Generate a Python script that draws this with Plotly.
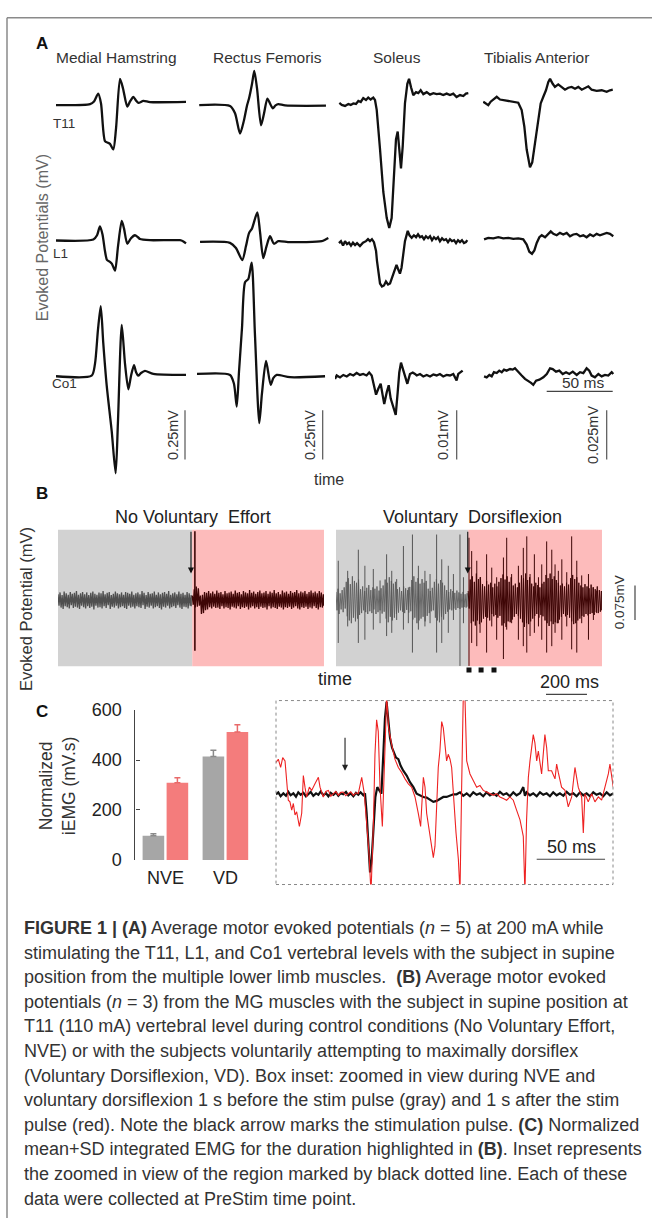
import plotly.graph_objects as go

W, H = 652, 1228
FONT = "Liberation Sans, Arial, Helvetica, sans-serif"


def X(px):
    return px / W


def Y(py):
    return 1 - py / H


# ======================= DATA =======================
COLUMNS = ["Medial Hamstring", "Rectus Femoris", "Soleus", "Tibialis Anterior"]
LEVELS = ["T11", "L1", "Co1"]
SCALE_LABELS = ["0.25mV", "0.25mV", "0.01mV", "0.025mV"]
SCALE_UV = [250, 250, 10, 25]          # vertical scale bars (µV)
TIME_BAR_MS = 50

# Panel A traces: (time ms, amplitude µV)
MH_T11 = [(0, -3.5), (25.8, 1.5), (28.8, 15), (32.0, 55), (34.1, 5), (37.1, -186), (39.4, -195),
          (40.9, -200), (43.4, -228), (45.5, -120), (48.5, 130), (50.8, 80), (54.0, -11), (56.1, 15),
          (58.6, 38), (60.6, 20), (62.4, 8), (66.2, 18), (71.2, 12), (98.5, 13)]
RF_T11 = [(1.7, -3.5), (25.0, -8.5), (28.8, -45), (32.6, -148), (35.6, -80), (37.9, -5), (39.4, 30),
          (41.7, 105), (43.4, 171), (45.5, 80), (48.5, -106), (50.8, -45), (53.3, 30), (55.3, 5),
          (57.4, -20), (59.5, -5), (61.6, 1.5), (66.7, -5), (97.7, -6.5)]
MH_L1 = [(0, 3.5), (28.3, 8.5), (31.1, 30), (33.3, 75), (35.2, 35), (37.1, -50), (38.6, -95),
         (40.9, -105), (42.4, -115), (44.7, -150), (47.0, -25), (49.8, 103), (51.5, 65), (54.0, -13),
         (56.8, 15), (59.8, 30), (62.1, 20), (63.6, 11), (71.2, 5), (93.9, 5), (96.2, 0), (98.5, -11)]
RF_L1 = [(2.3, -3.5), (25.0, -8.5), (29.5, -35), (34.3, -96), (37.1, -25), (39.4, 41), (41.7, 65),
         (45.7, 146), (47.7, 50), (50.2, -86), (52.7, -25), (55.3, 25), (58.3, -13), (61.6, 0),
         (70.5, -5), (94.5, 0), (97.7, 10), (99.5, 16)]
MH_CO1 = [(0, -1.5), (27.0, 1.5), (29.5, 60), (31.8, 235), (33.9, 355), (35.8, 168), (38.4, -48),
          (42.2, -281), (45.2, -495), (46.9, -240), (49.8, 260), (52.3, 60), (54.8, -68), (56.8, 0),
          (59.1, 55), (60.6, 20), (62.3, 1.5), (64.4, 15), (67.4, 26), (73.7, 10), (98.5, 5)]
RF_CO1 = [(0, 10), (25.0, 5), (28.0, -40), (30.1, -156), (31.8, 20), (34.1, 245), (36.4, 476),
          (38.9, 493), (41.4, 576), (43.9, 210), (47.2, -240), (49.2, -90), (52.3, 76), (55.8, -45),
          (57.9, -10), (60.4, 5), (70.5, -6.5), (97.0, -1.5)]
SOL_T11 = [(3.3, 0.3), (5.1, -0.1), (7.6, -0.3), (10.1, 0.1), (11.9, -0.1), (13.9, 0.2), (15.9, 0.1),
           (17.7, 0.7), (19.5, 0.5), (21.4, 1.3), (23.5, 0.9), (25.2, 1.4), (27.0, 1.0), (29.0, 1.4),
           (30.3, 0.9), (31.6, -1.1), (34.1, -9.1), (36.6, -17.8), (39.2, -23.1), (41.1, -25.1),
           (42.9, -23.1), (44.7, -13.8), (46.2, -7.1), (47.5, -5.5), (48.7, -8.5), (50.0, -13.0),
           (51.3, -8.5), (53.0, 0.2), (54.8, 4.2), (56.1, 5.2), (57.6, 3.5), (59.3, 1.9), (61.4, 2.5),
           (63.1, 2.3), (64.9, 2.9), (66.9, 2.1), (69.5, 2.5), (72.0, 2.0), (74.5, 2.3), (77.0, 2.1),
           (79.5, 2.2), (82.0, 1.9), (84.6, 2.2), (87.1, 1.9), (89.6, 2.2), (92.1, 1.5), (94.7, 1.9),
           (97.2, 1.7), (99.2, 2.2), (101.0, 2.3)]
SOL_L1 = [(3.0, -0.4), (4.5, 0), (6.1, -0.9), (7.6, 0), (9.1, -0.6), (10.6, -0.3), (12.1, -0.9),
          (13.6, -0.3), (15.2, -0.8), (16.7, -0.4), (18.9, -1.0), (21.2, -0.3), (23.5, 0), (25.0, 0.4),
          (26.5, 0), (28.0, 0.4), (29.5, -0.2), (31.1, -2.0), (31.8, -4.0), (33.3, -6.6), (34.1, -8.6),
          (35.6, -9.2), (37.1, -9.0), (38.6, -8.2), (40.2, -8.8), (41.7, -8.6), (43.2, -7.4),
          (44.3, -6.2), (45.5, -5.4), (46.6, -4.8), (47.7, -5.6), (49.2, -6.6), (50.4, -5.4),
          (51.5, -3.0), (53.0, 0), (55.1, 2.1), (56.4, 1.2), (58.1, 0.7), (59.8, 1.2), (61.4, 0.8),
          (62.9, 1.4), (64.4, 0.8), (65.9, 1.0), (67.4, 0.4), (68.9, 1.0), (70.5, 0.6), (72.0, 1.0),
          (73.5, 0.2), (75.0, 0.8), (76.5, 0.4), (78.0, 0.8), (79.5, 0), (81.1, 0.6), (82.6, 0.2),
          (84.1, 0.4), (85.6, -0.2), (87.1, 0.4), (88.6, 0), (90.2, 0.2), (91.7, -0.4), (93.2, 0.2),
          (94.7, -0.2), (96.2, 0.2), (97.7, -0.4), (99.2, -0.2), (100.2, 0.2)]
SOL_CO1 = [(0, -0.6), (1.3, 0.1), (3.8, -0.3), (6.3, 0.2), (8.9, -0.1), (11.4, 0.4), (13.9, 0.1),
           (16.4, 0.6), (18.9, 0.2), (21.4, 0.4), (23.9, 0.1), (25.9, 0.7), (27.8, 0.1), (29.5, -2.3),
           (31.1, -3.8), (32.8, -2.6), (34.6, -1.6), (36.1, -3.9), (37.3, -5.7), (39.2, -3.3),
           (40.7, -1.9), (42.2, -4.6), (44.2, -6.3), (46.0, -7.9), (47.5, -3.3), (48.7, 0.7),
           (50.0, 2.7), (51.3, 1.4), (53.0, 0.1), (54.8, -1.6), (56.8, 0.4), (58.9, 0.7), (60.6, 0.4),
           (61.9, 0.1), (64.4, 0.4), (66.9, -0.1), (69.5, 0.2), (72.0, -0.1), (74.5, 0.3), (77.0, 0.1),
           (79.5, 0.4), (82.0, -0.1), (84.6, 0.2), (87.1, 0.1), (89.6, 0.4), (92.1, -0.9), (93.4, 0.4),
           (95.2, 0.7), (96.7, 1.1)]
TA_T11 = [(0.2, 1.4), (2.3, 0.2), (4.0, -0.4), (5.8, 1.4), (8.3, 3.0), (10.4, 3.9), (12.9, 2.5),
          (15.4, 2.2), (19.2, 1.9), (22.9, 1.4), (26.7, 0.9), (29.3, -2.9), (31.3, -11.2), (33.1, -22.9),
          (35.6, -32.0), (37.3, -29.5), (39.4, -19.5), (41.9, -6.2), (43.7, 0.5), (45.7, 3.9),
          (47.7, 7.2), (49.5, 11.4), (50.8, 13.0), (52.8, 10.5), (54.5, 8.9), (57.0, 10.2), (59.6, 8.9),
          (62.1, 7.5), (64.6, 8.5), (67.2, 8.9), (69.7, 8.0), (72.2, 8.9), (74.8, 7.5), (77.3, 8.5),
          (79.8, 9.2), (82.3, 7.5), (86.1, 6.9), (89.9, 7.2), (93.7, 6.4), (96.2, 7.2), (98.3, 7.5)]
TA_L1 = [(0.8, 0.9), (4.0, 1.7), (7.8, 1.4), (11.6, 2.0), (15.4, 1.4), (19.2, 1.7), (23.0, 1.2),
         (26.7, 1.4), (30.5, 0.9), (33.1, -1.7), (35.1, -5.4), (37.1, -6.4), (38.9, -4.7), (40.7, -0.9),
         (42.7, 2.0), (44.5, 3.0), (47.0, 2.0), (49.5, 3.7), (51.3, 5.0), (53.3, 3.7), (55.8, 3.0),
         (58.3, 4.2), (60.8, 3.4), (63.4, 4.2), (65.9, 2.5), (68.4, 3.4), (70.9, 3.7), (73.5, 2.5),
         (76.0, 3.0), (78.5, 2.0), (81.1, 3.4), (83.6, 2.5), (86.1, 3.7), (88.6, 3.0), (91.1, 3.7),
         (93.7, 4.2), (96.2, 3.7), (98.7, 2.5)]
TA_CO1 = [(0.8, -0.2), (2.8, -0.7), (4.8, 0.5), (6.6, -0.2), (8.3, 1.9), (10.4, 1.5), (12.3, 2.7),
          (14.2, 1.9), (15.9, 3.2), (17.9, 2.7), (20.5, 3.5), (22.5, 3.2), (24.2, 3.9), (26.7, 1.9),
          (29.3, 0.2), (31.8, -1.5), (34.3, -2.4), (36.4, -3.5), (38.1, -4.5), (40.2, -2.4),
          (42.7, -1.9), (45.7, -0.7), (48.3, 1.0), (50.8, 3.9), (52.8, 3.5), (55.3, 2.2), (57.8, 2.7),
          (60.4, 1.0), (62.9, 1.9), (65.4, 1.0), (68.0, 2.2), (71.0, 0.5), (73.5, 1.9), (76.0, 1.4),
          (78.5, 3.9), (80.5, 2.7), (82.3, 0.2), (84.8, -0.7), (87.4, 1.0), (89.9, -0.2), (92.4, 0.5),
          (94.9, 0.2), (97.5, 1.9), (98.7, 1.0)]

# Panel B: noise envelopes (time ms, upper µV, lower µV) and spikes (time ms, upper µV, lower µV)
B_TITLES = ["No Voluntary\u00a0 Effort", "Voluntary\u00a0 Dorsiflexion"]
BOX_MS = 1298
STIM_NVE_MS = 655
STIM_VD_MS = 645
NVE_PRE = [(0, 13, -12), (10, 17, -16), (20, 11, -19), (30, 19, -13), (40, 15, -15), (50, 12, -18),
           (60, 18, -11), (70, 14, -17), (80, 16, -14), (90, 20, -16), (100, 12, -19), (110, 15, -12),
           (120, 18, -15), (130, 13, -18), (140, 17, -13), (150, 11, -17), (160, 16, -14), (170, 19, -20),
           (180, 14, -12), (190, 12, -16), (200, 17, -15), (210, 15, -18), (220, 20, -13), (230, 13, -17),
           (240, 16, -11), (250, 18, -19), (260, 11, -14), (270, 14, -16), (280, 19, -12), (290, 15, -18),
           (300, 13, -15), (310, 17, -13), (320, 12, -17), (330, 18, -19), (340, 16, -12), (350, 14, -16),
           (360, 19, -14), (370, 12, -18), (380, 15, -13), (390, 17, -15), (400, 13, -17), (410, 20, -11),
           (420, 16, -19), (430, 11, -14), (440, 18, -16), (450, 14, -12), (460, 15, -18), (470, 19, -15),
           (480, 12, -13), (490, 17, -17), (500, 13, -20), (510, 16, -14), (520, 18, -16), (530, 14, -12),
           (540, 20, -18), (550, 12, -15), (560, 15, -13), (570, 17, -17), (580, 13, -11), (590, 19, -16),
           (600, 14, -19), (610, 16, -14), (620, 12, -15), (630, 18, -18), (640, 15, -12), (650, 11, -13)]
NVE_POST = [(655, 10, -10), (665, 24, -16), (675, 30, -14), (685, 26, -12), (695, 10, -30), (705, 12, -28),
            (715, 18, -22), (725, 16, -20), (735, 20, -15), (745, 15, -18), (755, 19, -14), (765, 14, -17),
            (775, 21, -16), (785, 16, -19), (795, 18, -13), (805, 13, -18), (815, 20, -15), (825, 15, -17),
            (835, 17, -20), (845, 19, -14), (855, 14, -16), (865, 21, -18), (875, 16, -13), (885, 18, -19),
            (895, 13, -15), (905, 20, -17), (915, 17, -14), (925, 15, -20), (935, 22, -16), (945, 16, -13),
            (955, 19, -18), (965, 14, -15), (975, 18, -19), (985, 21, -14), (995, 15, -17), (1005, 17, -16),
            (1015, 20, -20), (1025, 14, -13), (1035, 19, -18), (1045, 16, -15), (1055, 22, -17),
            (1065, 15, -19), (1075, 18, -14), (1085, 13, -16), (1095, 21, -20), (1105, 17, -15),
            (1115, 19, -17), (1125, 14, -14), (1135, 20, -19), (1145, 16, -16), (1155, 18, -13),
            (1165, 22, -18), (1175, 15, -20), (1185, 19, -15), (1195, 17, -17), (1205, 20, -14),
            (1215, 14, -19), (1225, 18, -16), (1235, 21, -18), (1245, 16, -13), (1255, 19, -17),
            (1265, 15, -20), (1275, 20, -15), (1285, 17, -16), (1295, 13, -12)]
NVE_STIM_SPIKE = [(668, 150, -110)]
VD_PRE = [(0, 18, -22), (10, 25, -30), (20, 15, -20), (30, 22, -26), (40, 28, -18), (50, 40, -35),
          (60, 48, -44), (70, 35, -50), (80, 52, -38), (90, 42, -46), (100, 38, -40), (110, 45, -32),
          (120, 24, -28), (130, 30, -22), (140, 20, -26), (150, 27, -30), (160, 33, -24), (170, 22, -28),
          (180, 28, -20), (190, 25, -30), (200, 30, -26), (210, 21, -22), (220, 26, -29), (230, 32, -25),
          (240, 45, -40), (250, 38, -48), (260, 50, -36), (270, 42, -44), (280, 36, -38), (290, 40, -30),
          (300, 24, -27), (310, 28, -22), (320, 20, -25), (330, 30, -28), (340, 26, -21), (350, 22, -27),
          (360, 29, -24), (370, 44, -42), (380, 52, -38), (390, 40, -50), (400, 48, -44), (410, 36, -40),
          (420, 46, -36), (430, 38, -46), (440, 42, -34), (450, 25, -28), (460, 20, -24), (470, 27, -22),
          (480, 40, -38), (490, 46, -44), (500, 36, -48), (510, 44, -36), (520, 38, -42), (530, 32, -30),
          (540, 22, -25), (550, 18, -20), (560, 24, -22), (570, 20, -18), (580, 16, -21), (590, 21, -17),
          (600, 17, -19), (610, 14, -16), (620, 18, -15), (630, 13, -16), (640, 15, -14)]
VD_POST = [(645, 20, -18), (655, 45, -50), (665, 52, -46), (675, 40, -55), (685, 58, -44), (695, 46, -52),
           (705, 50, -48), (715, 35, -40), (725, 30, -36), (735, 42, -38), (745, 34, -44), (755, 38, -30),
           (765, 28, -35), (775, 36, -32), (785, 30, -38), (795, 40, -34), (805, 48, -55), (815, 56, -50),
           (825, 45, -58), (835, 52, -46), (845, 40, -48), (855, 50, -42), (865, 32, -36), (875, 36, -30),
           (885, 28, -34), (895, 38, -40), (905, 54, -48), (915, 48, -58), (925, 58, -50), (935, 44, -52),
           (945, 50, -46), (955, 36, -40), (965, 30, -34), (975, 38, -30), (985, 33, -38), (995, 28, -32),
           (1005, 36, -35), (1015, 40, -44), (1025, 55, -50), (1035, 48, -56), (1045, 58, -46),
           (1055, 46, -52), (1065, 52, -48), (1075, 44, -50), (1085, 38, -42), (1095, 32, -36),
           (1105, 36, -30), (1115, 30, -35), (1125, 38, -32), (1135, 34, -38), (1145, 48, -46),
           (1155, 55, -52), (1165, 46, -50), (1175, 50, -44), (1185, 38, -40), (1195, 32, -34),
           (1205, 28, -36), (1215, 35, -30), (1225, 30, -33), (1235, 26, -30), (1245, 34, -28),
           (1255, 28, -32), (1265, 24, -26), (1275, 30, -28), (1285, 22, -25), (1295, 20, -22)]
VD_PRE_SPIKES = [(11, 86, -93), (57, 64, -57), (109, 110, -93), (141, 75, -86), (182, 68, -64),
                 (215, 43, -50), (247, 100, -78), (272, 64, -71), (296, 46, -43), (329, 118, -64),
                 (353, 28, -50), (373, 143, -114), (402, 75, -64), (434, 64, -57), (459, 57, -50),
                 (491, 143, -114), (516, 89, -93), (548, 75, -71), (573, 57, -43), (605, 143, -143),
                 (622, 50, -50)]
VD_POST_SPIKES = [(649, 136, -143), (662, 107, -93), (687, 86, -100), (703, 50, -71), (735, 100, -114),
                  (760, 71, -57), (784, 50, -86), (817, 93, -128), (833, 136, -64), (857, 57, -50),
                  (890, 75, -86), (914, 114, -100), (931, 139, -114), (947, 57, -78), (968, 100, -71),
                  (988, 50, -57), (1004, 78, -86), (1028, 128, -114), (1053, 110, -100), (1069, 78, -71),
                  (1085, 64, -50), (1102, 89, -86), (1126, 61, -57), (1150, 139, -107), (1175, 86, -114),
                  (1199, 54, -50), (1232, 57, -86), (1256, 28, -43), (1272, 21, -28)]
VD_MARK_MS = [649, 708, 771]         # black squares marking the inset window
B_TIME_BAR_MS = 200
B_SCALE_UV = 75

# Panel C: normalized iEMG, mean + SD
C_GROUPS = ["NVE", "VD"]
C_PRE_MEAN = [97, 414]
C_PRE_SD = [8, 25]
C_POST_MEAN = [309, 512]
C_POST_SD = [20, 29]
C_TICKS = [0, 200, 400, 600]

# Panel C inset: (time ms, amplitude a.u.)
INSET_RED = [(0, 32.3), (1.7, 35.7), (3.4, 27.3), (4.9, 37.3), (6.6, 34), (7.8, 17.3), (9.0, -6),
             (10.2, -7.7), (11.5, -16), (12.7, -9.3), (13.9, -21), (15.1, -17.7), (17.1, -32.7),
             (18.8, -19.3), (20.0, 19), (21.2, 7.3), (22.4, -2.7), (24.4, 7.3), (26.1, 4), (28.5, 10.7),
             (31.0, 17.3), (32.2, 7.3), (34.6, -2.7), (36.4, 3), (38.3, 4), (40.1, -2), (41.9, 0.7),
             (43.7, 3), (45.6, -1), (47.4, 2), (49.2, 2.3), (51.0, -1.5), (52.9, 0.7), (54.7, 2.5),
             (56.6, -1), (58.4, 1.5), (60.2, 0.7), (62.7, 17.3), (64.6, 0.7), (66.3, -32.7), (68.0, -59.3),
             (69.5, -100), (71.2, -32.7), (72.4, 40.7), (73.6, 75.7), (74.8, 64), (76.1, 7.3), (77.8, -32.7),
             (79.0, 7.3), (80.0, 57.3), (80.9, 100), (82.4, 67.3), (84.6, 50.7), (87.0, 35.7), (89.5, 27.3),
             (91.9, 22.3), (94.4, 15.7), (96.8, 10.7), (99.2, 7.3), (101.7, -2.7), (104.1, -19.3),
             (105.8, -32.7), (107.8, 17.3), (109.0, 7.3), (110.2, -19.3), (112.6, -42.7), (115.1, -64.3),
             (116.3, -52.7), (117.5, -9.3), (118.7, 27.3), (119.9, 44), (121.2, 74), (122.4, 67.3),
             (123.6, 47.3), (124.8, 34), (126.0, 40.7), (127.3, 35.7), (128.5, 27.3), (129.7, -2.7),
             (131.7, -39.3), (133.4, -66), (134.6, -100), (135.8, 7.3), (137.0, 100), (138.2, 100),
             (139.5, 34), (141.9, 20.7), (144.3, 14), (146.8, 7.3), (149.2, 9), (151.6, 4), (154.1, 2.3),
             (156.5, 0.7), (159.0, -1), (161.4, 0.7), (163.8, -2.7), (166.3, -4.3), (168.7, -6),
             (171.1, -2.7), (173.6, -6), (176.0, -16), (178.5, -26), (180.9, -42.7), (182.1, -100),
             (183.3, -26), (184.6, 17.3), (185.8, 34), (188.2, 60.7), (189.4, 52.3), (190.7, 34),
             (191.9, 44), (194.3, 20.7), (196.7, 60.7), (198.0, 47.3), (199.2, 24), (201.6, 24),
             (204.1, 15.7), (205.3, 30.7), (206.5, 22.3), (208.9, 7.3), (211.4, 4), (213.8, -12.7),
             (216.3, -2.7), (218.7, 27.3), (221.1, 7.3), (223.6, -2.7), (224.8, -39.3), (226.0, 0.7),
             (228.4, -7.7), (230.9, 0.7), (233.3, -7.7), (235.8, -2.7), (238.2, -6), (240.6, 7.3),
             (243.1, 20.7), (244.3, 30.7), (245.5, 20.7), (246.7, 7.3)]
INSET_BLACK = [(0, 0), (1.7, 2), (3.4, -2), (5.4, 1), (7.3, -1.5), (9.0, 2.5), (10.7, -1), (12.7, 1),
               (14.6, -2.5), (16.3, 2), (18.0, -0.5), (20.0, 1.5), (21.9, -2), (23.6, 0.5), (25.4, 2.5),
               (27.3, -1.5), (29.3, 1), (31.0, -0.5), (32.7, 3), (34.6, -1), (36.6, 1), (38.3, -2),
               (40.0, 1.5), (42.0, -0.5), (43.9, 2), (45.6, -1.5), (47.3, 1), (49.2, 0), (51.2, 2.5),
               (52.9, -1), (54.6, 1), (56.6, -2), (58.5, 1.5), (60.2, -0.5), (61.9, 2), (63.9, -1),
               (65.1, 1), (66.3, -19.3), (67.5, -49.3), (68.8, -79.3), (70.0, -66), (71.2, -32.7),
               (72.7, -2.7), (74.1, 7.3), (75.6, 4), (77.1, 0.7), (78.5, 40.7), (79.7, 77.3), (80.9, 94),
               (82.2, 70.7), (83.4, 57.3), (84.9, 47.3), (86.3, 42.3), (87.8, 37.3), (89.5, 35.7),
               (91.2, 29), (93.1, 24), (95.6, 19), (98.0, 12.3), (100.5, 7.3), (102.9, 0.7), (105.3, -1),
               (107.8, -2.7), (110.2, -3.3), (112.6, -5.3), (115.1, -7.7), (117.5, -6.7), (119.9, -4.3),
               (122.4, -2.7), (124.8, -2.7), (127.3, -1.3), (129.7, 0), (132.1, 0), (134.6, 2),
               (137.0, -1.5), (139.5, 1), (141.9, -2), (144.3, 2), (146.8, -0.5), (149.2, 1), (151.6, -2),
               (154.1, 2), (156.5, -1), (159.0, 1), (161.4, -1.5), (163.8, 2.5), (166.3, -0.5), (168.7, 1),
               (171.1, -2), (173.6, 2), (176.0, -1), (178.5, 1), (180.9, 7.3), (182.1, -1.5), (183.3, 2),
               (185.8, -1), (188.2, 1), (190.7, -2), (193.1, 2), (195.5, -0.5), (198.0, 1), (200.4, -2),
               (202.8, 2), (205.3, -1), (207.7, 1), (210.2, -1.5), (212.6, 2.5), (215.0, -0.5), (217.5, 1),
               (219.9, -2), (222.4, 2), (224.8, -1), (227.2, 1), (229.7, -2), (232.1, 2), (234.5, -0.5),
               (237.0, 1), (239.4, -2), (241.9, 2), (244.3, -1), (246.7, 1)]
INSET_STIM_MS = 50.5

CAPTION = [
    "<b>FIGURE 1 | (A)</b> Average motor evoked potentials (<i>n</i> = 5) at 200 mA while",
    "stimulating the T11, L1, and Co1 vertebral levels with the subject in supine",
    "position from the multiple lower limb muscles.\u00a0 <b>(B)</b> Average motor evoked",
    "potentials (<i>n</i> = 3) from the MG muscles with the subject in supine position at",
    "T11 (110 mA) vertebral level during control conditions (No Voluntary Effort,",
    "NVE) or with the subjects voluntarily attempting to maximally dorsiflex",
    "(Voluntary Dorsiflexion, VD). Box inset: zoomed in view during NVE and",
    "voluntary dorsiflexion 1 s before the stim pulse (gray) and 1 s after the stim",
    "pulse (red). Note the black arrow marks the stimulation pulse. <b>(C)</b> Normalized",
    "mean+SD integrated EMG for the duration highlighted in <b>(B)</b>. Inset represents",
    "the zoomed in view of the region marked by black dotted line. Each of these",
    "data were collected at PreStim time point.",
]

# ======================= LAYOUT CONSTANTS =======================
COL_X0 = [56, 197, 335, 483]
COL_W = 140
PX_PER_MS = 1.32
PX_PER_UV = [0.2, 0.2, 5.0, 2.0]
ROW_BASE = [96, 235, 372]
A_TOP, A_BOT = 60, 475
SB_X = [185, 322.7, 456.7, 606.7]
SB_BOTTOM = 457
SB_TX = [173, 310, 443, 593]
TB_X0, TB_Y = 546.7, 387.7

B_TOP, B_BOX_BOT, B_BOT, B_BASE = 528, 667, 700, 600
B_PX_PER_UV = 0.467
B_MS_PER_PX = 4.88
BOX_L = (58, 324)
BOX_R = (336, 602)

C_X0, C_X1, C_Y0, C_Y1 = 135.4, 255.4, 864, 711.7
IN_X0, IN_X1, IN_Y0, IN_Y1 = 276, 613, 702, 889
IN_PX_PER_MS = 1.367
IN_BASE = 797.3

INK = "#111111"
GRAY_BG = "#d2d2d2"
PINK_BG = "#fdbbbb"
GRAY_TR = "#4f4f4f"
VD_GRAY_TR = "#5e5e5e"
RED_TR = "#3e0606"

fig = go.Figure()
axes = {}
annotations = []
shapes = []


def an(i, a):
    return a if i == 1 else f"{a}{i}"


def txt(s, x, y, size=14, color="#222", xa="center", ya="middle", angle=0):
    annotations.append(dict(text=s, x=X(x), y=Y(y), xref="paper", yref="paper", showarrow=False,
                            font=dict(family=FONT, size=size, color=color), xanchor=xa, yanchor=ya,
                            textangle=angle))


def line(x, y, xa, ya, color=INK, width=1.2, dash=None, mode="lines", **kw):
    fig.add_trace(go.Scatter(x=x, y=y, mode=mode, line=dict(color=color, width=width, dash=dash),
                             xaxis=xa, yaxis=ya, hoverinfo="skip", showlegend=False, **kw))


# ---------------- Panel A ----------------
A_CELLS = [[MH_T11, RF_T11, SOL_T11, TA_T11],
           [MH_L1, RF_L1, SOL_L1, TA_L1],
           [MH_CO1, RF_CO1, SOL_CO1, TA_CO1]]
TITLE_X = [116, 267, 397, 536]
for c in range(4):
    i = c + 1
    s = PX_PER_UV[c]
    axes[an(i, "xaxis")] = dict(domain=[X(COL_X0[c]), X(COL_X0[c] + COL_W)],
                                range=[0, COL_W / PX_PER_MS], visible=False, anchor=an(i, "y"))
    axes[an(i, "yaxis")] = dict(domain=[Y(A_BOT), Y(A_TOP)],
                                range=[(ROW_BASE[0] - A_BOT) / s, (ROW_BASE[0] - A_TOP) / s],
                                visible=False, anchor=an(i, "x"))
    for r in range(3):
        data = A_CELLS[r][c]
        off = -(ROW_BASE[r] - ROW_BASE[0]) / s
        fig.add_trace(go.Scatter(
            x=[p[0] for p in data], y=[p[1] + off for p in data], mode="lines",
            line=dict(color=INK, width=2.3, shape="spline" if c < 2 else "linear", smoothing=0.7),
            xaxis=an(i, "x"), yaxis=an(i, "y"), hoverinfo="skip", showlegend=False))
    tb = (SB_X[c] - COL_X0[c]) / PX_PER_MS
    yb = (ROW_BASE[0] - SB_BOTTOM) / s
    line([tb, tb], [yb, yb + SCALE_UV[c]], an(i, "x"), an(i, "y"), color="#555", width=1.2)
    txt(SCALE_LABELS[c], SB_TX[c], 432, size=14.5, color="#333", angle=-90)
    txt(COLUMNS[c], TITLE_X[c], 48, size=15.5, color="#333")

t0 = (TB_X0 - COL_X0[3]) / PX_PER_MS
ytb = (ROW_BASE[0] - TB_Y) / PX_PER_UV[3]
line([t0, t0 + TIME_BAR_MS], [ytb, ytb], "x4", "y4", color="#444", width=1.2)
txt(f"{TIME_BAR_MS} ms", 582.7, 379, size=15.5, color="#333")

txt("<b>A</b>", 42, 34, size=17, color="#111")
for lab, (lx, ly) in zip(LEVELS, [(64, 115), (60, 248), (64, 380)]):
    txt(lab, lx, ly, size=13.5, color="#333")
txt("Evoked Potentials (mV)", 42, 232, size=16, color="#666", angle=-90)
txt("time", 329, 477, size=16, color="#333")

# ---------------- Panel B ----------------
axes["xaxis5"] = dict(domain=[X(BOX_L[0]), X(BOX_L[1])], range=[0, (BOX_L[1] - BOX_L[0]) * B_MS_PER_PX],
                      visible=False, anchor="y5")
axes["xaxis6"] = dict(domain=[X(BOX_R[0]), X(640)], range=[0, (640 - BOX_R[0]) * B_MS_PER_PX],
                      visible=False, anchor="y5")
axes["yaxis5"] = dict(domain=[Y(B_BOT), Y(B_TOP)],
                      range=[-(B_BOT - B_BASE) / B_PX_PER_UV, (B_BASE - B_TOP) / B_PX_PER_UV],
                      visible=False, anchor="x5")
box_lo = -(B_BOX_BOT - B_BASE) / B_PX_PER_UV
box_hi = (B_BASE - B_TOP) / B_PX_PER_UV
for xa, stim in (("x5", STIM_NVE_MS), ("x6", STIM_VD_MS)):
    shapes.append(dict(type="rect", xref=xa, yref="y5", x0=0, x1=stim, y0=box_lo, y1=box_hi,
                       fillcolor=GRAY_BG, line=dict(width=0), layer="below"))
    shapes.append(dict(type="rect", xref=xa, yref="y5", x0=stim, x1=BOX_MS, y0=box_lo, y1=box_hi,
                       fillcolor=PINK_BG, line=dict(width=0), layer="below"))


def band(data, xa, color, width=1.0):
    """Dense noise drawn as a zig-zag between the upper and lower envelope of each sample."""
    xs, ys = [], []
    for k, (t, hi, lo) in enumerate(data):
        nxt = data[k + 1][0] if k + 1 < len(data) else t
        xs += [t, (t + nxt) / 2]
        ys += [hi, lo]
    line(xs, ys, xa, "y5", color=color, width=width)


def spikes(data, xa, color, width=1.0):
    xs, ys = [], []
    for t, hi, lo in data:
        xs += [t, t, None]
        ys += [lo, hi, None]
    line(xs, ys, xa, "y5", color=color, width=width)


band(NVE_PRE, "x5", GRAY_TR, width=1.3)
band(NVE_POST, "x5", RED_TR, width=1.3)
spikes(NVE_STIM_SPIKE, "x5", RED_TR, width=1.6)
band(VD_PRE, "x6", VD_GRAY_TR, width=0.9)
spikes(VD_PRE_SPIKES, "x6", "#555555", width=1.0)
band(VD_POST, "x6", RED_TR, width=1.0)
spikes(VD_POST_SPIKES, "x6", RED_TR, width=1.0)

for xa, t_arrow in (("x5", STIM_NVE_MS - 6), ("x6", STIM_VD_MS - 2)):
    annotations.append(dict(x=t_arrow, y=58, ax=t_arrow, ay=box_hi - 2, xref=xa, yref="y5", axref=xa,
                            ayref="y5", showarrow=True, arrowhead=2, arrowsize=1.1, arrowwidth=1.1,
                            arrowcolor="#111", text=""))

fig.add_trace(go.Scatter(x=VD_MARK_MS, y=[-(671 - B_BASE) / B_PX_PER_UV] * len(VD_MARK_MS),
                         mode="markers", marker=dict(symbol="square", size=5, color="#111"),
                         xaxis="x6", yaxis="y5", hoverinfo="skip", showlegend=False))
tb0 = (546 - BOX_R[0]) * B_MS_PER_PX
ybar = -(695.7 - B_BASE) / B_PX_PER_UV
line([tb0, tb0 + B_TIME_BAR_MS], [ybar, ybar], "x6", "y5", color="#444", width=1.2)
txt(f"{B_TIME_BAR_MS} ms", 569, 683, size=18, color="#222")
tv = (635 - BOX_R[0]) * B_MS_PER_PX
yv0 = -(620 - B_BASE) / B_PX_PER_UV
line([tv, tv], [yv0, yv0 + B_SCALE_UV], "x6", "y5", color="#444", width=1.2)
txt("0.075mV", 619, 602, size=13.5, color="#333", angle=-90)

txt("<b>B</b>", 42, 492, size=17, color="#111")
txt(B_TITLES[0], 193, 515, size=18, color="#222")
txt(B_TITLES[1], 472, 515, size=18, color="#222")
txt("Evoked Potential (mV)", 26, 609, size=16.5, color="#333", angle=-90)
txt("time", 335, 680, size=18, color="#222")

# ---------------- Panel C: bars ----------------
fig.add_trace(go.Bar(x=C_GROUPS, y=C_PRE_MEAN, marker=dict(color="#a6a6a6", line=dict(width=0)),
                     error_y=dict(type="data", array=C_PRE_SD, arrayminus=[0, 0], symmetric=False,
                                  color="#8a8a8a", thickness=1.5, width=3),
                     xaxis="x7", yaxis="y7", hoverinfo="skip", showlegend=False))
fig.add_trace(go.Bar(x=C_GROUPS, y=C_POST_MEAN, marker=dict(color="#f47c7c", line=dict(width=0)),
                     error_y=dict(type="data", array=C_POST_SD, arrayminus=[0, 0], symmetric=False,
                                  color="#e86a6a", thickness=1.5, width=3),
                     xaxis="x7", yaxis="y7", hoverinfo="skip", showlegend=False))
axes["xaxis7"] = dict(domain=[X(C_X0), X(C_X1)], range=[-0.5, 1.5], type="category", anchor="y7",
                      showline=False, showgrid=False, zeroline=False, ticks="",
                      tickfont=dict(family=FONT, size=18, color="#222"), ticklabelstandoff=5)
axes["yaxis7"] = dict(domain=[Y(C_Y0), Y(C_Y1)], range=[0, 600], anchor="x7", showline=True,
                      linecolor="#444", linewidth=1.2, ticks="inside", ticklen=4, tickcolor="#444",
                      tickvals=C_TICKS, showgrid=False, zeroline=False,
                      tickfont=dict(family=FONT, size=18, color="#222"), ticklabelstandoff=9)
txt("<b>C</b>", 42, 713, size=17, color="#111")
txt("Normalized<br>iEMG (mV.s)", 57, 789, size=17.5, color="#333", angle=-90)

# ---------------- Panel C: inset ----------------
axes["xaxis8"] = dict(domain=[X(IN_X0), X(IN_X1)], range=[0, (IN_X1 - IN_X0) / IN_PX_PER_MS],
                      visible=False, anchor="y8")
axes["yaxis8"] = dict(domain=[Y(IN_Y1), Y(IN_Y0)], range=[-(IN_Y1 - IN_BASE), IN_BASE - IN_Y0],
                      visible=False, anchor="x8")
line([p[0] for p in INSET_BLACK], [p[1] for p in INSET_BLACK], "x8", "y8", color="#111", width=2.2)
line([p[0] for p in INSET_RED], [p[1] for p in INSET_RED], "x8", "y8", color="#ee2222", width=1.1)
shapes.append(dict(type="rect", xref="paper", yref="paper", x0=X(IN_X0), x1=X(IN_X1), y0=Y(IN_Y1),
                   y1=Y(IN_Y0), line=dict(color="#888", width=1, dash="dot")))
annotations.append(dict(x=INSET_STIM_MS, y=24, ax=INSET_STIM_MS, ay=59, xref="x8", yref="y8",
                        axref="x8", ayref="y8", showarrow=True, arrowhead=2, arrowsize=1.1,
                        arrowwidth=1.1, arrowcolor="#222", text=""))
ti0 = (536.7 - IN_X0) / IN_PX_PER_MS
yi = -(863.3 - IN_BASE)
line([ti0, ti0 + TIME_BAR_MS], [yi, yi], "x8", "y8", color="#444", width=1.2)
txt(f"{TIME_BAR_MS} ms", 571.5, 851, size=18, color="#222")

# ---------------- Caption ----------------
for k, s in enumerate(CAPTION):
    txt(s, 21.5, 933.3 + 25 * k, size=18, color="#333", xa="left")

# ---------------- Frame ----------------
shapes.append(dict(type="line", xref="paper", yref="paper", x0=X(7), x1=X(652), y0=Y(8), y1=Y(8),
                   line=dict(color="#8a8a8a", width=1.5)))
shapes.append(dict(type="line", xref="paper", yref="paper", x0=X(7), x1=X(7), y0=Y(8), y1=Y(1228),
                   line=dict(color="#8a8a8a", width=1.5)))

fig.update_layout(
    width=W, height=H, autosize=False, margin=dict(l=0, r=0, t=0, b=0),
    paper_bgcolor="white", plot_bgcolor="rgba(0,0,0,0)",
    barmode="group", bargap=0.2, bargroupgap=0.1,
    font=dict(family=FONT), annotations=annotations, shapes=shapes, **axes)

fig.write_html("out.html", config={"displayModeBar": False},
               post_script="document.body.style.margin='0px';")
